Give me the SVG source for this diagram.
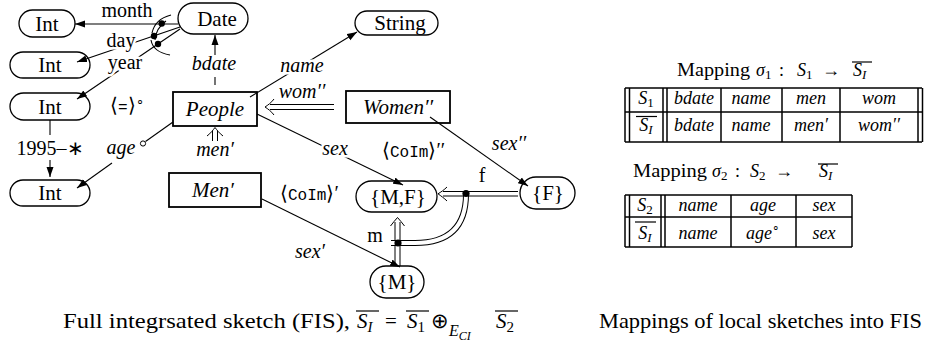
<svg xmlns="http://www.w3.org/2000/svg" width="925" height="352" viewBox="0 0 925 352">
<defs>
<style>
text { font-family: "Liberation Serif", serif; fill:#000; }
.n { font-size:21px; text-anchor:middle; }
.l { font-size:20px; text-anchor:middle; }
.tx { font-size:18px; text-anchor:middle; }
.tt { font-family:"Liberation Mono","DejaVu Sans Mono",monospace; }
.i { font-style:italic; }
.s { text-anchor:start; }
.h { paint-order:stroke; stroke:#fff; stroke-width:5px; stroke-linejoin:round; }
.pill { fill:none; stroke:#000; stroke-width:1.3; }
.box { fill:none; stroke:#000; stroke-width:1.8; }
.e { fill:none; stroke:#000; stroke-width:1.1; }
.d { fill:none; stroke:#000; stroke-width:1; }
.tb { stroke:#000; stroke-width:1.5; fill:none; }
.ov { stroke:#000; stroke-width:1.2; }
</style>
<marker id="ah" viewBox="0 0 10 8" refX="10" refY="4" markerWidth="10" markerHeight="8" orient="auto" markerUnits="userSpaceOnUse"><path d="M0,0.5 L10,4 L0,7.5 z" fill="#000"/></marker>
</defs>
<rect width="925" height="352" fill="#fff"/>

<g id="connectors">
  <line class="e" x1="178" y1="24" x2="75" y2="24" marker-end="url(#ah)"/>
  <line class="e" x1="180" y1="27" x2="77" y2="62" marker-end="url(#ah)"/>
  <line class="e" x1="180" y1="29" x2="77" y2="99" marker-end="url(#ah)"/>
  <path class="e" d="M171,15 Q155,19 152,33"/>
  <path class="e" d="M151,40 Q153,52 170,55"/>
  <path class="e" d="M166,21 Q156,28 155,40"/>
  <circle cx="161.7" cy="23.5" r="3.2"/>
  <circle cx="154" cy="36" r="3.2"/>
  <circle cx="158" cy="44" r="3.2"/>
  <line class="e" x1="215" y1="55" x2="215" y2="35" marker-end="url(#ah)"/>
  <line class="e" x1="215" y1="77" x2="215" y2="85"/>
  <line class="e" x1="250" y1="97" x2="357" y2="32" marker-end="url(#ah)"/>
  <line class="e" x1="257" y1="114" x2="403" y2="185" marker-end="url(#ah)"/>
  <line class="e" x1="173" y1="122" x2="145.5" y2="141.5"/>
  <circle cx="143" cy="143.5" r="2.6" fill="#fff" stroke="#000" stroke-width="1"/>
  <line class="e" x1="112" y1="163" x2="77" y2="188" marker-end="url(#ah)"/>
  <line class="e" x1="50" y1="120" x2="50" y2="135"/>
  <line class="e" x1="50" y1="160" x2="50" y2="177" marker-end="url(#ah)"/>
  <line class="e" x1="262" y1="199" x2="400" y2="267" marker-end="url(#ah)"/>
  <line class="e" x1="430" y1="117" x2="528" y2="186" marker-end="url(#ah)"/>
  <line class="d" x1="270" y1="104.5" x2="334" y2="104.5"/>
  <line class="d" x1="270" y1="109.5" x2="334" y2="109.5"/>
  <path class="d" d="M274,99 C271,103 268,105 265,107 C268,109 271,111 274,115"/>
  <line class="d" x1="212.5" y1="131" x2="212.5" y2="141"/>
  <line class="d" x1="217.5" y1="131" x2="217.5" y2="141"/>
  <path class="d" d="M207,136 C211,133 213,130 215,127.5 C217,130 219,133 223,136"/>
  <line class="d" x1="395" y1="222" x2="395" y2="266"/>
  <line class="d" x1="400" y1="222" x2="400" y2="266"/>
  <path class="d" d="M390.5,226 C393,223 395,220 397.5,217.5 C400,220 402,223 404.5,226"/>
  <line class="d" x1="443" y1="191.5" x2="518" y2="191.5"/>
  <line class="d" x1="443" y1="196" x2="518" y2="196"/>
  <path class="d" d="M447,187 C444,190 441,192 438,193.8 C441,196 444,198 447,201"/>
  <path d="M391,243 L415,243 Q466,243 466,194" fill="none" stroke="#000" stroke-width="6"/>
  <path d="M391,243 L415,243 Q466,243 466,194" fill="none" stroke="#fff" stroke-width="4"/>
  <circle cx="398" cy="243" r="3.6"/>
  <circle cx="466" cy="193.5" r="3.6"/>
  <text class="l" x="127" y="17" font-size="19">month</text>
  <text class="l h" x="121" y="47">day</text>
  <text class="l h" x="125" y="69">year</text>
  <text class="l i" x="214" y="70">bdate</text>
  <text class="l i h" x="302" y="72">name</text>
  <text class="l i" x="302" y="98">wom′′</text>
  <text class="l i" x="215" y="156">men′</text>
  <text class="l i h" x="121" y="154">age</text>
  <text class="l" x="50" y="155">1995–∗</text>
  <text class="l s" x="110" y="112">⟨<tspan class="tt" font-size="16">=</tspan>⟩<tspan dy="-7" font-size="13">∘</tspan></text>
  <text class="l i h" x="335" y="155">sex</text>
  <text class="l s" x="382" y="157">⟨<tspan class="tt" font-size="16">CoIm</tspan>⟩′′</text>
  <text class="l s" x="280" y="200">⟨<tspan class="tt" font-size="16">CoIm</tspan>⟩′</text>
  <text class="l i" x="310" y="258">sex′</text>
  <text class="l i" x="509" y="150">sex′′</text>
  <text class="l" x="482" y="182">f</text>
  <text class="l" x="375" y="242">m</text>
</g>

<g id="int1"><rect class="pill" x="19" y="10" width="56" height="27" rx="13.5"/><text class="n" x="47" y="30.5">Int</text></g>
<g id="int2"><rect class="pill" x="10" y="52" width="80" height="26" rx="13"/><text class="n" x="50" y="72">Int</text></g>
<g id="int3"><rect class="pill" x="10" y="93" width="80" height="27" rx="13.5"/><text class="n" x="50" y="113.5">Int</text></g>
<g id="int4"><rect class="pill" x="10" y="180" width="80" height="26" rx="13"/><text class="n" x="50" y="200">Int</text></g>
<g id="date"><rect class="pill" x="178" y="3" width="70" height="31" rx="15.5"/><text class="n" x="217" y="25.5">Date</text></g>
<g id="string"><rect class="pill" x="355" y="11" width="83" height="24" rx="12"/><text class="n" x="400" y="30">String</text></g>
<g id="people"><rect class="box" x="173" y="92" width="84" height="34"/><text class="n i" x="215" y="116">People</text></g>
<g id="women"><rect class="box" x="346" y="91" width="104" height="32"/><text class="n i" x="398" y="114">Women′′</text></g>
<g id="men"><rect class="box" x="169" y="173" width="92" height="34"/><text class="n i" x="213" y="197">Men′</text></g>
<g id="mf"><rect class="pill" x="356" y="181" width="81" height="31" rx="15.5"/><text class="n" x="398" y="203.5">{M,F}</text></g>
<g id="f"><rect class="pill" x="520" y="177" width="55" height="32" rx="16"/><text class="n" x="548" y="200">{F}</text></g>
<g id="m"><rect class="pill" x="370" y="266" width="54" height="32" rx="16"/><text class="n" x="397" y="289">{M}</text></g>

<g id="table1">
  <text class="tx s" x="677" y="76" font-size="19" textLength="73" lengthAdjust="spacingAndGlyphs">Mapping</text>
  <text class="tx s i" x="756" y="76" font-size="19">σ<tspan font-style="normal" font-size="13" dy="3">1</tspan></text>
  <text class="tx s" x="779" y="76" font-size="19">:</text>
  <text class="tx s i" x="797" y="76" font-size="19">S<tspan font-style="normal" font-size="13" dy="3">1</tspan></text>
  <text class="tx" x="831" y="76" font-size="19">→</text>
  <text class="tx s i" x="853" y="76" font-size="19">S<tspan font-size="13" dy="3">I</tspan></text>
  <line class="ov" x1="852" y1="62" x2="872" y2="62"/>
  <line class="tb" x1="625" y1="88" x2="922" y2="88"/>
  <line class="tb" x1="625" y1="112" x2="922" y2="112"/>
  <line class="tb" x1="625" y1="142" x2="922" y2="142"/>
  <line class="tb" x1="625" y1="88" x2="625" y2="142"/>
  <line class="tb" x1="629.5" y1="88" x2="629.5" y2="142"/>
  <line class="tb" x1="663" y1="88" x2="663" y2="142"/>
  <line class="tb" x1="667" y1="88" x2="667" y2="142"/>
  <line class="tb" x1="721" y1="88" x2="721" y2="142"/>
  <line class="tb" x1="782" y1="88" x2="782" y2="142"/>
  <line class="tb" x1="840" y1="88" x2="840" y2="142"/>
  <line class="tb" x1="918" y1="88" x2="918" y2="142"/>
  <line class="tb" x1="922.5" y1="88" x2="922.5" y2="142"/>
  <text class="tx i" x="646" y="104">S<tspan font-style="normal" font-size="13" dy="3">1</tspan></text>
  <text class="tx i" x="694" y="104">bdate</text>
  <text class="tx i" x="751" y="104">name</text>
  <text class="tx i" x="811" y="104">men</text>
  <text class="tx i" x="879" y="104">wom</text>
  <text class="tx i" x="646" y="131">S<tspan font-size="13" dy="3">I</tspan></text>
  <line class="ov" x1="636" y1="116.5" x2="657" y2="116.5"/>
  <text class="tx i" x="694" y="131">bdate</text>
  <text class="tx i" x="751" y="131">name</text>
  <text class="tx i" x="811" y="131">men′</text>
  <text class="tx i" x="879" y="131">wom′′</text>
</g>

<g id="table2">
  <text class="tx s" x="633" y="177" font-size="19" textLength="74" lengthAdjust="spacingAndGlyphs">Mapping</text>
  <text class="tx s i" x="712" y="177" font-size="19">σ<tspan font-style="normal" font-size="13" dy="3">2</tspan></text>
  <text class="tx s" x="735" y="177" font-size="19">:</text>
  <text class="tx s i" x="750" y="177" font-size="19">S<tspan font-style="normal" font-size="13" dy="3">2</tspan></text>
  <text class="tx" x="784" y="177" font-size="19">→</text>
  <text class="tx s i" x="819" y="177" font-size="19">S<tspan font-size="13" dy="3">I</tspan></text>
  <line class="ov" x1="818" y1="164" x2="838" y2="164"/>
  <line class="tb" x1="625" y1="195" x2="852" y2="195"/>
  <line class="tb" x1="625" y1="217" x2="852" y2="217"/>
  <line class="tb" x1="625" y1="247" x2="852" y2="247"/>
  <line class="tb" x1="625" y1="195" x2="625" y2="247"/>
  <line class="tb" x1="629.5" y1="195" x2="629.5" y2="247"/>
  <line class="tb" x1="661" y1="195" x2="661" y2="247"/>
  <line class="tb" x1="665" y1="195" x2="665" y2="247"/>
  <line class="tb" x1="731" y1="195" x2="731" y2="247"/>
  <line class="tb" x1="796" y1="195" x2="796" y2="247"/>
  <line class="tb" x1="852" y1="195" x2="852" y2="247"/>
  <text class="tx i" x="645" y="211">S<tspan font-style="normal" font-size="13" dy="3">2</tspan></text>
  <text class="tx i" x="698" y="211">name</text>
  <text class="tx i" x="763" y="211">age</text>
  <text class="tx i" x="824" y="211">sex</text>
  <text class="tx i" x="645" y="239">S<tspan font-size="13" dy="3">I</tspan></text>
  <line class="ov" x1="635" y1="222" x2="656" y2="222"/>
  <text class="tx i" x="698" y="239">name</text>
  <text class="tx i" x="763" y="239">age<tspan font-style="normal" font-size="12" dy="-7">∘</tspan></text>
  <text class="tx i" x="824" y="239">sex</text>
</g>

<g id="captions">
  <text x="63" y="328" font-size="21" textLength="287" lengthAdjust="spacingAndGlyphs">Full integrsated sketch (FIS),</text>
  <text x="357" y="328" font-size="21" font-style="italic">S<tspan font-size="15" dy="4">I</tspan></text>
  <line class="ov" x1="356" y1="311" x2="379" y2="311"/>
  <text x="391" y="328" font-size="21" text-anchor="middle">=</text>
  <text x="407" y="328" font-size="21" font-style="italic">S<tspan font-style="normal" font-size="15" dy="4">1</tspan></text>
  <line class="ov" x1="406" y1="311" x2="429" y2="311"/>
  <text x="440" y="328" font-size="21" text-anchor="middle">⊕</text>
  <text x="449" y="336" font-size="16" font-style="italic">E<tspan font-size="12" dy="4">CI</tspan></text>
  <text x="496" y="328" font-size="21" font-style="italic">S<tspan font-style="normal" font-size="15" dy="4">2</tspan></text>
  <line class="ov" x1="495" y1="311" x2="518" y2="311"/>
  <text x="599" y="328" font-size="21" textLength="323" lengthAdjust="spacingAndGlyphs">Mappings of local sketches into FIS</text>
</g>
</svg>
